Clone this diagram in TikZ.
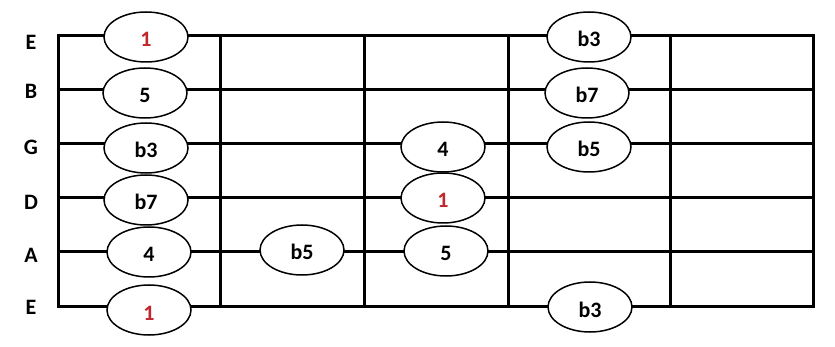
\documentclass[tikz,border=0pt]{standalone}
\usepackage{fontspec}
\setmainfont{Carlito}
\usetikzlibrary{shapes.geometric}
\definecolor{rootred}{RGB}{192,40,45}

\begin{document}
\begin{tikzpicture}[x=1pt, y=-1pt,
    wire/.style={line width=3pt},
    note/.style={ellipse, draw, line width=1.5pt, fill=white, minimum width=84pt, minimum height=50pt, inner sep=0pt, text height=20pt, text depth=0pt, font=\bfseries\fontsize{22}{22}\selectfont},
    root/.style={note, text=rootred},
    strname/.style={font=\bfseries\fontsize{22}{22}\selectfont}]
    \useasboundingbox (0,0) rectangle (835,347);
    % strings
    \foreach \s/\n/\y/\ly in {1/E/36/42,2/B/90/91,3/G/144/147,4/D/198/202,5/A/252/255,6/E/306/307}{
      \coordinate (s\s L) at (58,\y);
      \coordinate (s\s R) at (813,\y);
      \draw[wire] (s\s L) -- (s\s R);
      \node[strname] (lab\s) at (31,\ly) {\n};
    }
    % frets
    \draw[wire, line cap=rect] (s1L) -- (s6L);
    \foreach \f/\x in {1/220,2/364,3/508,4/670,5/813}{
      \coordinate (f\f T) at (\x,36);
      \coordinate (f\f B) at (\x,306);
      \draw[wire, line cap=rect] (f\f T) -- (f\f B);
    }
    % notes
    \node[root] (n11) at (146,37) {1};
    \node[note] (n21) at (145,93) {5};
    \node[note] (n31) at (146,148) {b3};
    \node[note] (n41) at (146,200) {b7};
    \node[note] (n51) at (149,252) {4};
    \node[root] (n61) at (149,310) {1};
    \node[note] (n52) at (302,250) {b5};
    \node[note] (n33) at (443,147) {4};
    \node[root] (n43) at (443,198) {1};
    \node[note] (n53) at (446,251) {5};
    \node[note] (n14) at (589,37) {b3};
    \node[note] (n24) at (587,93) {b7};
    \node[note] (n34) at (589,147) {b5};
    \node[note] (n64) at (590,307) {b3};
\end{tikzpicture}
\end{document}
